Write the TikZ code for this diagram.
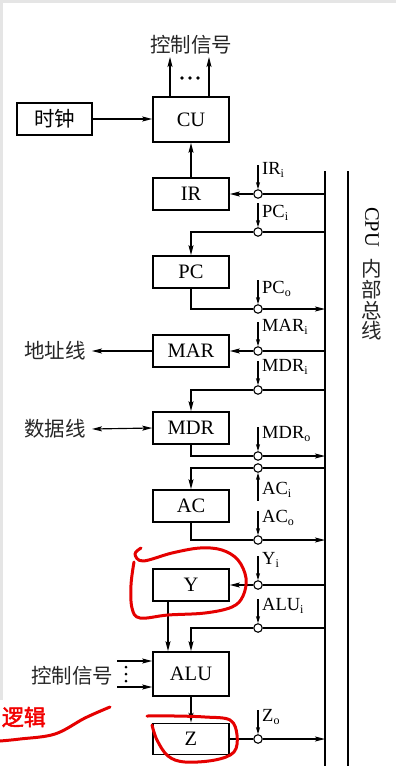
\documentclass[tikz,border=0pt]{standalone}
\usepackage{fontspec}
\setmainfont{Liberation Serif}
\newfontfamily\cjk{Noto Sans CJK SC}
\newfontfamily\cjkb[FakeBold=2]{Noto Sans CJK SC}
\usetikzlibrary{arrows.meta}
\newcommand{\sbi}[1]{\raisebox{-0.35ex}{\fontsize{12}{12}\selectfont #1}}
\begin{document}
\begin{tikzpicture}[x=1pt,y=-1pt,
  box/.style={draw, line width=1.6pt, minimum width=76pt, inner sep=0pt, font=\fontsize{20.5}{20.5}\selectfont},
  gate/.style={draw, circle, fill=white, line width=1.1pt, minimum size=8.5pt, inner sep=0pt},
  wire/.style={line width=1.15pt},
  arr/.style={wire, -{Stealth[length=10pt,width=5pt,inset=2pt]}},
  darr/.style={wire, {Stealth[length=10pt,width=5pt,inset=2pt]}-{Stealth[length=10pt,width=5pt,inset=2pt]}},
  ctl/.style={line width=1.1pt, -{Stealth[length=7pt,width=4pt,inset=1.5pt]}},
  sig/.style={anchor=west, inner sep=0pt, font=\fontsize{18.5}{18.5}\selectfont},
  zh/.style={font=\cjk\fontsize{20.5}{20.5}\selectfont, text=black!85, inner sep=0pt},
  redpen/.style={draw=red!90!black, line width=3pt, line cap=round, line join=round}]
\useasboundingbox (0,0) rectangle (396,768);
\fill[white] (0,0) rectangle (396,768);
\fill[black!10] (0,0) rectangle (396,3);
\fill[black!10] (0,0) rectangle (3,700);

% bus
\coordinate (bus) at (325,0);
\coordinate (busT) at (325,171);
\coordinate (busB) at (325,766);
\coordinate (bus2T) at (348,171);
\coordinate (bus2B) at (348,766);
\draw[line width=2pt] (busT) -- (busB);
\draw[line width=2pt] (bus2T) -- (bus2B);
\node[font=\fontsize{20.5}{20.5}\selectfont, rotate=-90, inner sep=0pt] (cpu) at (372,227) {CPU};
\node[zh] (b1) at (372,269) {内};
\node[zh] (b2) at (372,290) {部};
\node[zh] (b3) at (372,311) {总};
\node[zh] (b4) at (372,331) {线};

% boxes
\node[box, minimum height=45pt] (CU) at (191,119.5) {CU};
\node[box, minimum height=32pt, minimum width=75pt] (clk) at (54.5,119) {\cjk 时钟};
\node[box, minimum height=32pt] (IR) at (191,194) {IR};
\node[box, minimum height=32pt] (PC) at (191,272) {PC};
\node[box, minimum height=32pt] (MAR) at (191,351) {MAR};
\node[box, minimum height=32pt] (MDR) at (191,428) {MDR};
\node[box, minimum height=32pt] (AC) at (191,506) {AC};
\node[box, minimum height=32pt] (Y) at (191,585) {Y};
\node[box, minimum height=44pt] (ALU) at (191,674) {ALU};
\node[box, minimum height=31pt] (Z) at (191,739) {Z};

% top control signals
\node[zh] (ctop) at (191,45) {控制信号};
\coordinate (c1) at (170,57);
\coordinate (c2) at (209,57);
\draw[arr] (c1 |- CU.north) -- (c1);
\draw[arr] (c2 |- CU.north) -- (c2);
\foreach \xx in {182,190,198} \fill (\xx,78) circle (1.8pt);
\draw[arr] (clk.east) -- (clk.east -| CU.west);
\draw[arr] (IR.north) -- (CU.south);

% address / data lines
\node[zh] (addr) at (55,351) {地址线};
\node[zh] (data) at (55,429) {数据线};
\coordinate (addrE) at ([xshift=6pt]addr.east);
\coordinate (dataE) at ([xshift=6pt]data.east);
\draw[arr] (MAR.west) -- (addrE);
\draw[darr] (dataE) -- (MDR.west);

% gates
\node[gate] (gIRi) at (258,194) {};
\node[gate] (gPCi) at (258,232) {};
\node[gate] (gPCo) at (258,309) {};
\node[gate] (gMARi) at (258,351) {};
\node[gate] (gMDRi) at (258,390) {};
\node[gate] (gMDRo) at (258,456) {};
\node[gate] (gACi) at (258,468) {};
\node[gate] (gACo) at (258,540) {};
\node[gate] (gYi) at (258,585) {};
\node[gate] (gALUi) at (258,628) {};
\node[gate] (gZo) at (258,739) {};

% bus connections
\draw[wire] (gIRi -| bus) -- (gIRi);
\draw[arr] (gIRi) -- (IR.east);
\draw[wire] (gPCi -| bus) -- (gPCi);
\draw[arr] (gPCi.west) -| (PC.north);
\draw[wire] (PC.south) |- (gPCo);
\draw[arr] (gPCo) -- (gPCo -| bus);
\draw[wire] (gMARi -| bus) -- (gMARi);
\draw[arr] (gMARi) -- (MAR.east);
\draw[wire] (gMDRi -| bus) -- (gMDRi);
\draw[arr] (gMDRi.west) -| (MDR.north);
\draw[wire] (MDR.south) |- (gMDRo);
\draw[arr] (gMDRo) -- (gMDRo -| bus);
\draw[wire] (gACi -| bus) -- (gACi);
\draw[arr] (gACi.west) -| (AC.north);
\draw[wire] (AC.south) |- (gACo);
\draw[arr] (gACo) -- (gACo -| bus);
\draw[wire] (gYi -| bus) -- (gYi);
\draw[arr] (gYi) -- (Y.east);
\draw[wire] (gALUi -| bus) -- (gALUi);
\draw[arr] (gALUi.west) -| (ALU.north);
\coordinate (yx) at (168,0);
\draw[arr] (Y.south -| yx) -- (ALU.north -| yx);
\draw[arr] (ALU.south) -- (Z.north);
\draw[wire] (Z.east) -- (gZo);
\draw[arr] (gZo) -- (gZo -| bus);

% control arrows to gates
\foreach \g in {gIRi,gPCi,gPCo,gMARi,gMDRi,gMDRo,gACo,gYi,gALUi,gZo}
  \draw[ctl] ([yshift=24pt]\g.north) -- (\g.north);
\draw[ctl] ([yshift=-28pt]gACi.south) -- (gACi.south);

\node[sig] (lIRi) at (262,170) {IR\sbi{i}};
\node[sig] (lPCi) at (262,213) {PC\sbi{i}};
\node[sig] (lPCo) at (262,289) {PC\sbi{o}};
\node[sig] (lMARi) at (262,327) {MAR\sbi{i}};
\node[sig] (lMDRi) at (262,367) {MDR\sbi{i}};
\node[sig] (lMDRo) at (262,434) {MDR\sbi{o}};
\node[sig] (lACi) at (262,490) {AC\sbi{i}};
\node[sig] (lACo) at (262,518) {AC\sbi{o}};
\node[sig] (lYi) at (262,560) {Y\sbi{i}};
\node[sig] (lALUi) at (262,606) {ALU\sbi{i}};
\node[sig] (lZo) at (262,717) {Z\sbi{o}};

% ALU control signals
\node[zh] (calu) at (72,676) {控制信号};
\coordinate (ca1) at (117,661);
\coordinate (ca2) at (117,687);
\draw[arr] (ca1) -- (ca1 -| ALU.west);
\draw[arr] (ca2) -- (ca2 -| ALU.west);
\foreach \yy in {667,674,681} \fill (126,\yy) circle (1.5pt);

% red annotations
\draw[redpen] plot[smooth, tension=0.6] coordinates {(141,548) (135,554) (143,561) (172,553) (200,548) (222,550) (238,560) (246,578) (243,596) (232,607) (205,613) (168,615) (140,618) (132,608) (131,585) (134,562)};
\draw[redpen] plot[smooth, tension=0.6] coordinates {(147,716) (175,716) (205,717) (230,720) (237,735) (234,752) (215,760) (185,762) (168,756) (157,740) (152,725)};
\draw[redpen] plot[smooth, tension=0.6] coordinates {(110,707) (85,718) (55,734) (20,739) (0,741)};
\node[anchor=east, inner sep=0pt, text=red!95!black, font=\cjkb\fontsize{22}{22}\selectfont] (red) at (46,717) {逻辑};
\end{tikzpicture}
\end{document}
